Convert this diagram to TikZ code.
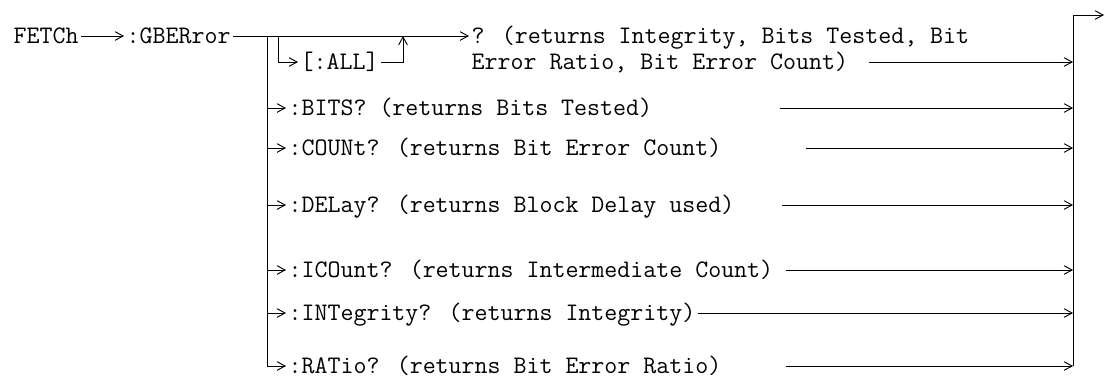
\documentclass[tikz,border=0pt]{standalone}
\usepackage{fontspec}
\usetikzlibrary{arrows.meta, positioning}
\tikzset{
  cmd/.style  = {inner sep=0pt, outer xsep=2pt, outer ysep=0pt, anchor=west,
                 text height=14pt, text depth=2.4pt,
                 font=\ttfamily\fontsize{18.9}{22}\selectfont},
  arr/.style  = {-{Straight Barb[length=6pt,width=6.5pt]}, line width=0.7pt},
  bus/.style  = {line width=0.7pt},
}

\begin{document}
\begin{tikzpicture}[x=0.75pt, y=-0.75pt]
\useasboundingbox (0,0) rectangle (1105,380);

% ---- Command root ------------------------------------------------------------
\node[cmd] (fetch) at (11,36) {FETCh};
\node[cmd] (gber)  at (124,36) {:GBERror};
\node[cmd] (qall)  at (469,36) {? (returns Integrity, Bits Tested, Bit};
\node[cmd] (qallb) at (469,62) {Error Ratio, Bit Error Count)};

\draw[arr] (fetch.east) -- (gber.west);
\draw[arr] (gber.east) -- (qall.west);

% ---- Optional [:ALL] ---------------------------------------------------------
\coordinate (allfork) at (278,36);
\coordinate (alljoin) at (403,36);
\node[cmd] (all) at (298,62) {[:ALL]};

\draw[arr] (allfork) |- (all.west);
\draw[arr] (all.east) -| (alljoin);

% ---- Query branches ----------------------------------------------------------
\coordinate (bustop) at (267,36);
\node[cmd] (bits)   at (286,108) {:BITS? (returns Bits Tested)};
\node[cmd] (count)  at (286,148) {:COUNt? (returns Bit Error Count)};
\node[cmd] (delay)  at (286,205) {:DELay? (returns Block Delay used)};
\node[cmd] (icount) at (286,270) {:ICOunt? (returns Intermediate Count)};
\node[cmd] (integ)  at (286,313) {:INTegrity? (returns Integrity)};
\node[cmd] (ratio)  at (286,366) {:RATio? (returns Bit Error Ratio)};

\draw[arr] (bustop) |- (ratio.west);
\foreach \n in {bits, count, delay, icount, integ}
  \draw[arr] (bustop |- \n.west) -- (\n.west);

% ---- Return bus --------------------------------------------------------------
\coordinate (rbot) at (1073,366);
\coordinate (exit) at (1104,15);

\draw[arr] (rbot) |- (exit);
\draw[arr] (qallb.east) ++(18,0) -- (qallb.east -| rbot);
\draw[arr] (bits.east) ++(125,0) -- (bits.east -| rbot);
\draw[arr] (count.east) ++(82,0) -- (count.east -| rbot);
\draw[arr] (delay.east) ++(45,0) -- (delay.east -| rbot);
\draw[arr] (icount.east) ++(10,0) -- (icount.east -| rbot);
\draw[arr] (integ.east) -- (integ.east -| rbot);
\draw[arr] (ratio.east) ++(62,0) -- (ratio.east -| rbot);

\end{tikzpicture}
\end{document}
